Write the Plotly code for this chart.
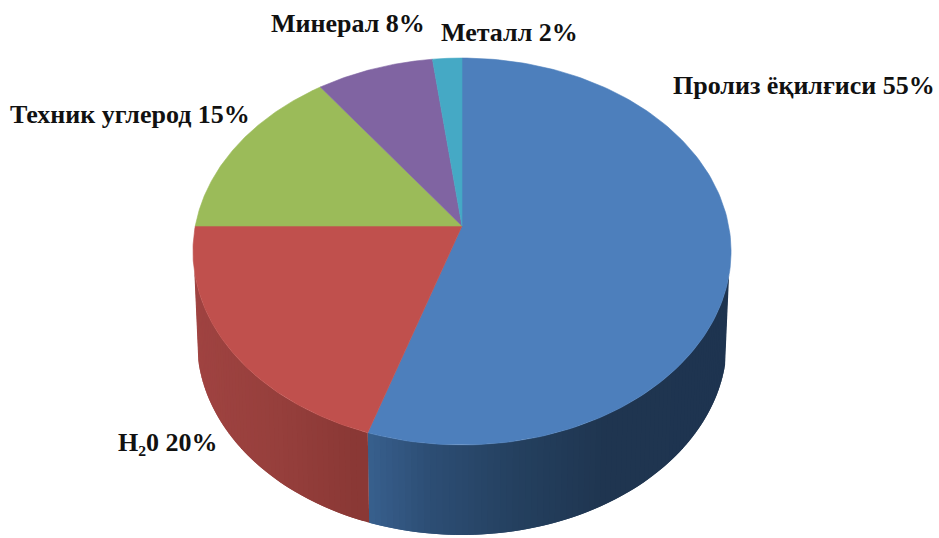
import numpy as np
import plotly.graph_objects as go

# --- data (clockwise from 12 o'clock) ---
labels = ["Пролиз ёқилғиси", "H₂0", "Техник углерод", "Минерал", "Металл"]
shares = [55, 20, 15, 8, 2]

# --- styles ---
top_colors = ["#4d7fbc", "#c0504d", "#9bbb59", "#8064a2", "#45a9c5"]
side_stops = [
    [(370, "#38608e"), (430, "#2d4e75"), (520, "#24405f"), (610, "#1f3550"), (740, "#1e3450")],
    [(190, "#a04341"), (280, "#963f3c"), (372, "#883734")],
    [(190, "#7a8f45"), (740, "#7a8f45")],
    [(190, "#63507f"), (740, "#63507f")],
    [(190, "#36859a"), (740, "#36859a")],
]
label_pos = [(671, 85), (116, 442), (8, 114), (269, 23), (439, 32)]
FONT = "Liberation Serif"
FONT_SIZE = 26

# --- perspective pie geometry (pixels) ---
CX, CY = 462, 226
RX, RY = 266.7, 190.1
PERSP = 0.1318
DEPTH = 90
BOTTOM_SHRINK = 0.985


def project(theta, radius=1.0):
    u = radius * np.sin(theta)
    v = radius * np.cos(theta)
    d = 1 + PERSP * v
    return CX + RX * u / d, CY - RY * v / d


def hex_rgb(h):
    return np.array([int(h[i:i + 2], 16) for i in (1, 3, 5)], dtype=float)


def side_color(stops, x):
    xs = [s[0] for s in stops]
    cols = np.array([hex_rgb(s[1]) for s in stops])
    c = [np.interp(x, xs, cols[:, i]) for i in range(3)]
    return "rgb(%d,%d,%d)" % tuple(int(round(k)) for k in c)


fig = go.Figure()


def poly(xs, ys, color, name, width=0):
    fig.add_trace(go.Scatter(
        x=xs, y=ys, mode="lines", fill="toself", fillcolor=color,
        line=dict(color=color, width=width), hoverinfo="skip", name=name,
        showlegend=False,
    ))


edges = 2 * np.pi * np.cumsum([0] + shares) / sum(shares)

# side wall: only front-facing parts are drawn, shaded in overlapping strips
for i in range(len(shares)):
    a0, a1 = edges[i], edges[i + 1]
    n = max(2, int((a1 - a0) / (2 * np.pi) * 300))
    ts = np.linspace(a0, a1, n + 1)
    for k in range(n - 1, -1, -1):
        t0, t1 = ts[k], ts[min(k + 2, n)]
        if np.cos(ts[k]) > -0.25 and np.cos(ts[k + 1]) > -0.25:
            continue
        arc = np.linspace(t0, t1, 6)
        x, y = project(arc)
        bx = CX + (x - CX) * BOTTOM_SHRINK
        poly(np.r_[x, bx[::-1], x[0]],
             np.r_[y, (y + DEPTH)[::-1], y[0]],
             side_color(side_stops[i], x.mean()), labels[i] + " side")

# top face
for i in range(len(shares)):
    ts = np.linspace(edges[i], edges[i + 1], 160)
    px, py = project(ts)
    poly(np.r_[CX, px, CX], np.r_[CY, py, CY], top_colors[i], labels[i], 0.6)

annotations = [
    dict(x=p[0], y=p[1], text="<b>%s %d%%</b>" % (l, s), showarrow=False,
         xanchor="left", yanchor="middle", xref="x", yref="y",
         font=dict(family=FONT, size=FONT_SIZE, color="#111111"))
    for l, s, p in zip(labels, shares, label_pos)
]

fig.update_layout(
    width=939, height=538, autosize=False,
    margin=dict(l=0, r=0, t=0, b=0),
    paper_bgcolor="white", plot_bgcolor="white",
    xaxis=dict(range=[0, 939], visible=False, fixedrange=True),
    yaxis=dict(range=[538, 0], visible=False, fixedrange=True),
    annotations=annotations,
    showlegend=False,
)

fig.write_html("out.html", config={"displayModeBar": False},
               post_script="document.body.style.margin='0';document.body.style.overflow='hidden';")
